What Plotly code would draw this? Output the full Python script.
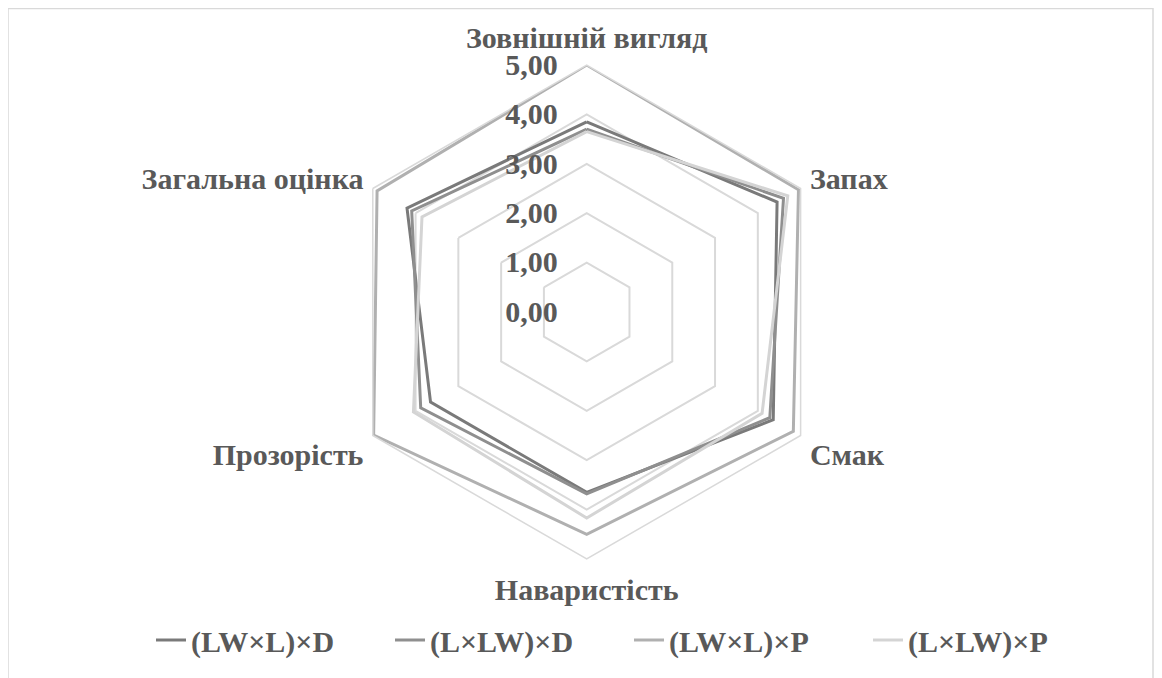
import plotly.graph_objects as go

# Sensory evaluation criteria (clockwise from top)
categories = ['Зовнішній вигляд', 'Запах', 'Смак', 'Наваристість', 'Прозорість', 'Загальна оцінка']

series_names = ['(LW×L)×D', '(L×LW)×D', '(LW×L)×P', '(L×LW)×P']
lw_l_d = [3.85, 4.45, 4.36, 3.65, 3.65, 4.20]
l_lw_d = [3.70, 4.60, 4.28, 3.68, 3.88, 4.09]
lw_l_p = [5.00, 4.95, 4.83, 4.50, 4.98, 4.90]
l_lw_p = [3.65, 4.70, 4.10, 4.17, 4.05, 3.85]

colors = ['#7a7a7a', '#8f8f8f', '#b0b0b0', '#d4d4d4']
text_color = '#595959'
font_family = 'Liberation Serif, Times New Roman, serif'

W, H = 1162, 678
# page body adds an 8px offset, so positions here are in figure pixels
cx, cy, R = 578.7, 304, 247

fig = go.Figure()

for name, vals, col in zip(series_names, [lw_l_d, l_lw_d, lw_l_p, l_lw_p], colors):
    fig.add_trace(go.Scatterpolar(
        r=vals + vals[:1],
        theta=categories + categories[:1],
        mode='lines',
        name=name,
        line=dict(color=col, width=3),
    ))

tick_font = dict(family=font_family, size=30, color=text_color, weight='bold')

fig.update_layout(
    width=W,
    height=H,
    margin=dict(l=0, r=0, t=0, b=0),
    paper_bgcolor='white',
    plot_bgcolor='white',
    separators=', ',
    font=dict(family=font_family, color=text_color, size=30, weight='bold'),
    polar=dict(
        domain=dict(x=[(cx - R) / W, (cx + R) / W],
                    y=[(H - cy - R) / H, (H - cy + R) / H]),
        gridshape='linear',
        bgcolor='white',
        radialaxis=dict(
            range=[0, 5],
            dtick=1,
            tickformat='.2f',
            angle=90,
            tickangle=90,
            side='counterclockwise',
            showline=False,
            gridcolor='#d9d9d9',
            gridwidth=1.5,
            ticks='outside',
            ticklen=18,
            tickcolor='rgba(0,0,0,0)',
            tickfont=tick_font,
        ),
        angularaxis=dict(
            rotation=90,
            direction='clockwise',
            showgrid=False,
            linecolor='#d9d9d9',
            linewidth=1.5,
            ticks='outside',
            ticklen=4,
            tickcolor='rgba(0,0,0,0)',
            tickfont=tick_font,
        ),
    ),
    legend=dict(
        orientation='h',
        x=143 / W, xanchor='left',
        y=(H - 632) / H, yanchor='middle',
        entrywidth=194,
        font=tick_font,
        bgcolor='rgba(0,0,0,0)',
    ),
    shapes=[
        dict(type='rect', xref='paper', yref='paper',
             x0=0, x1=1145 / W, y0=-0.05, y1=(H - 0.5) / H,
             line=dict(color='#d9d9d9', width=1.5),
             fillcolor='rgba(0,0,0,0)', layer='below'),
    ],
)

fig.write_html('out.html')
